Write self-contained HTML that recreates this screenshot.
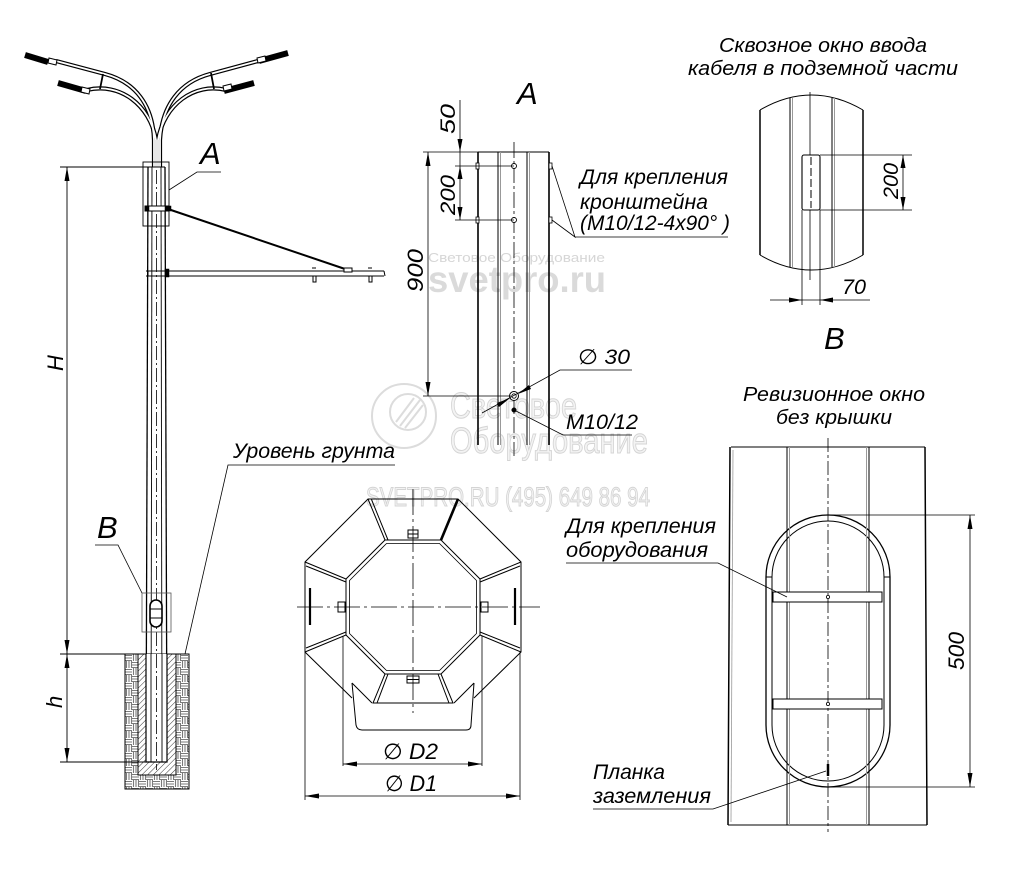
<!DOCTYPE html>
<html><head><meta charset="utf-8"><style>
html,body{margin:0;padding:0;background:#fff}
svg{display:block}
text{font-family:"Liberation Sans","DejaVu Sans",sans-serif;font-style:italic;fill:#000}
.wm{font-style:normal;fill:#f3f3f3;stroke:#d4d4d4;stroke-width:1}
</style></head><body>
<svg width="1014" height="882" viewBox="0 0 1014 882" xmlns="http://www.w3.org/2000/svg">
<defs>
<pattern id="brick" width="14" height="14" patternUnits="userSpaceOnUse" x="125" y="654">
 <rect width="14" height="14" fill="#fff"/>
 <g stroke="#7a7a7a" stroke-width="1.1">
  <path d="M0,1.5H7M0,4H7M0,6.5H7"/>
  <path d="M8.5,0V7M11,0V7M13.5,0V7"/>
  <path d="M1.5,7V14M4,7V14M6.5,7V14"/>
  <path d="M7,8.5H14M7,11H14M7,13.5H14"/>
 </g>
</pattern>
<pattern id="hatch" width="4" height="4" patternUnits="userSpaceOnUse" patternTransform="rotate(45)">
 <rect width="4" height="4" fill="#fff"/>
 <line x1="0" y1="0" x2="0" y2="4" stroke="#000" stroke-width="0.8"/>
</pattern>
</defs>
<rect width="1014" height="882" fill="#fff"/>

<!-- ============ WATERMARKS ============ -->
<g>
 <text x="428" y="262" font-size="13" style="font-style:normal;fill:#d6d6d6" textLength="177" lengthAdjust="spacingAndGlyphs">Световое Оборудование</text>
 <text x="428" y="292" font-size="37" font-weight="bold" style="font-style:normal;fill:#dadada" textLength="178" lengthAdjust="spacingAndGlyphs">svetpro.ru</text>
 <circle cx="404" cy="416" r="32" fill="none" stroke="#dcdcdc" stroke-width="2"/>
 <circle cx="408" cy="412" r="18" fill="none" stroke="#dcdcdc" stroke-width="2"/>
 <path d="M396,422 L414,398 M400,426 L420,400 M405,428 L423,405" stroke="#dcdcdc" stroke-width="2"/>
 <text class="wm" x="450" y="418" font-size="36" textLength="127" lengthAdjust="spacingAndGlyphs">Световое</text>
 <text class="wm" x="450" y="453" font-size="36" textLength="198" lengthAdjust="spacingAndGlyphs">Оборудование</text>
 <text class="wm" x="366" y="506" font-size="27" textLength="284" lengthAdjust="spacingAndGlyphs">SVETPRO.RU   (495) 649 86 94</text>
</g>

<!-- ============ LEFT POLE ============ -->
<g fill="none" stroke="#000">
 <!-- arms (tubes) -->
 <g stroke-width="4.2">
  <path d="M56,61 L105,74 C135,82 153,105 154,140 L154,167"/>
  <path d="M87,90 C120,82 150,105 156,140 L156,167"/>
  <path d="M258,61 L210,74 C180,82 162,105 160,140 L160,167"/>
  <path d="M226,90 C194,82 164,105 158,140 L158,167"/>
 </g>
 <g stroke="#fff" stroke-width="1.8">
  <path d="M56,61 L105,74 C135,82 153,105 154,140 L154,167"/>
  <path d="M87,90 C120,82 150,105 156,140 L156,167"/>
  <path d="M258,61 L210,74 C180,82 162,105 160,140 L160,167"/>
  <path d="M226,90 C194,82 164,105 158,140 L158,167"/>
 </g>
 <!-- braces -->
 <path d="M103,74 L100,89 M211,73 L214,89" stroke-width="1.8"/>
 <!-- lamps -->
 <g stroke-width="6" stroke-linecap="butt">
  <path d="M25,55 L48,62"/>
  <path d="M58,83 L86,91"/>
  <path d="M259,61 L288,53"/>
  <path d="M224,91 L254,83"/>
 </g>
 <g stroke-width="1">
  <path d="M49,58 L57,60 L56,65 L48,63 Z" fill="#fff"/>
  <path d="M82,87 L90,89 L89,94 L81,92 Z" fill="#fff"/>
  <path d="M257,58 L265,56 L266,61 L258,63 Z" fill="#fff"/>
  <path d="M223,86 L231,84 L232,89 L224,91 Z" fill="#fff"/>
 </g>
 <!-- pole shaft -->
 <path d="M148,167 L146,762" stroke-width="1.3"/>
 <path d="M165,167 L167,762" stroke-width="1.3"/>
 <path d="M152,167 L151,762" stroke-width="0.9"/>
 <path d="M161,167 L162,762" stroke-width="0.9"/>
 <path d="M156.5,170 L156.5,762" stroke-width="0.8" stroke-dasharray="14,3,2,3"/>
 <path d="M148,167 H165" stroke-width="1"/>
 <!-- box A -->
 <rect x="143" y="162" width="26" height="64" stroke-width="0.9"/>
 <path d="M169,190 L197,172 H221" stroke-width="0.8"/>
 <!-- strut and arm -->
 <path d="M168,209 L348,270" stroke-width="2"/>
 <path d="M146,271 H384 M146,276 H384 M384,271 L385,276" stroke-width="1"/>
 <path d="M148,271 V276" stroke-width="1"/>
 <rect x="145" y="206" width="24" height="5" fill="#fff" stroke-width="1"/>
 <rect x="145" y="206" width="4" height="5" fill="#000" stroke-width="0.5"/>
 <rect x="165" y="206" width="6" height="5" fill="#000" stroke-width="0.5"/>
 <rect x="165" y="269" width="4" height="8" fill="#000" stroke-width="0.5"/>
 <rect x="344" y="268" width="8" height="4" fill="#fff" stroke-width="1"/>
 <path d="M312,268 h4 M313,276 v6 h3 v-6 M368,268 h4 M369,276 v6 h3 v-6" stroke-width="1"/>
 <!-- box B -->
 <rect x="142" y="593" width="29" height="39" stroke="#555" stroke-width="0.8"/>
 <path d="M142,593 L118,545 H95" stroke-width="0.8"/>
 <rect x="150" y="600" width="12" height="27" rx="6" fill="#fff" stroke-width="1.6"/>
 <path d="M150,609 H162 M150,618 H162" stroke-width="1"/>
 <!-- foundation -->
 <rect x="125" y="654" width="64" height="135" fill="url(#brick)" stroke-width="1"/>
 <rect x="138" y="654" width="38" height="121" fill="url(#hatch)" stroke-width="1"/>
 <rect x="146" y="654" width="21" height="108" fill="#fff" stroke="none"/>
 <path d="M146,654 V762 H167 V654" stroke-width="1.2"/>
 <path d="M151,654 V762 M162,654 V762" stroke-width="0.9"/>
 <path d="M156.5,654 V770" stroke-width="0.8" stroke-dasharray="14,3,2,3"/>
 <!-- ground leader -->
 <path d="M185,654 L228,465 H395" stroke-width="0.8"/>
 <!-- dimensions H / h -->
 <path d="M67,167 V762 M60,167 H148 M60,654 H138 M60,762 H146" stroke-width="0.9"/>
</g>
<g fill="#000">
 <polygon points="67,167 64.5,181 69.5,181"/>
 <polygon points="67,654 64.5,640 69.5,640"/>
 <polygon points="67,654 64.5,668 69.5,668"/>
 <polygon points="67,762 64.5,748 69.5,748"/>
</g>
<text x="0" y="0" font-size="22" transform="translate(63,371) rotate(-90)">H</text>
<text x="0" y="0" font-size="22" transform="translate(62,708) rotate(-90)">h</text>
<text x="200" y="164" font-size="31">A</text>
<text x="97" y="538" font-size="31">B</text>
<text x="233" y="458" font-size="21" textLength="162" lengthAdjust="spacingAndGlyphs">Уровень грунта</text>

<!-- ============ VIEW A ============ -->
<text x="517" y="104" font-size="31">A</text>
<g fill="none" stroke="#000">
 <path d="M478,152 V445 M549,152 V445" stroke-width="1.6"/>
 <path d="M478,152 H549" stroke-width="1"/>
 <path d="M498,152 V445 M527,152 V445" stroke-width="1"/>
 <path d="M500.5,152 V445 M529.5,152 V445" stroke="#999" stroke-width="1"/>
 <path d="M514,142 V456" stroke-width="0.8" stroke-dasharray="16,3,3,3"/>
 <circle cx="514" cy="166" r="2.5" stroke-width="0.9" fill="#fff"/>
 <circle cx="514" cy="220" r="2.5" stroke-width="0.9" fill="#fff"/>
 <circle cx="514" cy="396" r="4.5" stroke-width="1" fill="#fff"/>
 <circle cx="514" cy="396" r="2.2" stroke-width="0.8"/>
 <circle cx="514" cy="410" r="2.3" fill="#000" stroke-width="0.5"/>
 <rect x="476" y="163" width="3" height="6" stroke-width="0.8" fill="#fff"/>
 <rect x="476" y="217" width="3" height="6" stroke-width="0.8" fill="#fff"/>
 <rect x="549" y="163" width="3" height="6" stroke-width="0.8" fill="#fff"/>
 <rect x="549" y="217" width="3" height="6" stroke-width="0.8" fill="#fff"/>
 <!-- dims -->
 <path d="M423,152 H478 M455,166 H514 M455,220 H514 M423,396 H511" stroke-width="0.8"/>
 <path d="M460,100 V220 M428,152 V396" stroke-width="0.8"/>
 <!-- leaders -->
 <path d="M552,166 L575,237 L552,220 M575,237 H728" stroke-width="0.8"/>
 <path d="M482,413 L560,370 H632" stroke-width="0.8"/>
 <path d="M514,410 L563,435 H632" stroke-width="0.8"/>
</g>
<g fill="#000">
 <polygon points="460,152 457.5,139 462.5,139"/>
 <polygon points="460,166 457.5,179 462.5,179"/>
 <polygon points="460,220 457.5,207 462.5,207"/>
 <polygon points="428,152 425.5,166 430.5,166"/>
 <polygon points="428,396 425.5,382 430.5,382"/>
 <polygon points="510,398 497,403 499,407"/>
 <polygon points="518,394 531,389 529,385"/>
</g>
<text x="0" y="0" font-size="21" transform="translate(455,134) rotate(-90)" textLength="30" lengthAdjust="spacingAndGlyphs">50</text>
<text x="0" y="0" font-size="21" transform="translate(455,215) rotate(-90)" textLength="40" lengthAdjust="spacingAndGlyphs">200</text>
<text x="0" y="0" font-size="22" transform="translate(423,292) rotate(-90)" textLength="43" lengthAdjust="spacingAndGlyphs">900</text>
<text x="580" y="184" font-size="21" textLength="148" lengthAdjust="spacingAndGlyphs">Для крепления</text>
<text x="580" y="209" font-size="21" textLength="128" lengthAdjust="spacingAndGlyphs">кронштейна</text>
<text x="580" y="230" font-size="21" textLength="150" lengthAdjust="spacingAndGlyphs">(М10/12-4х90° )</text>
<text x="578" y="364" font-size="21" textLength="52" lengthAdjust="spacingAndGlyphs">∅ 30</text>
<text x="566" y="429" font-size="21" textLength="72" lengthAdjust="spacingAndGlyphs">M10/12</text>

<!-- ============ VIEW B (cable window) ============ -->
<text x="719" y="52" font-size="20" textLength="208" lengthAdjust="spacingAndGlyphs">Сквозное окно ввода</text>
<text x="688" y="75" font-size="20" textLength="270" lengthAdjust="spacingAndGlyphs">кабеля в подземной части</text>
<g fill="none" stroke="#000">
 <path d="M760,110 Q811.5,80 863,110 M760,255 Q811.5,285 863,255" stroke-width="1"/>
 <path d="M760,110 V255 M863,110 V255" stroke-width="1.5"/>
 <path d="M790,98 V267 M832,98 V267" stroke-width="1"/>
 <path d="M792.5,98 V267 M834.5,98 V267" stroke="#999" stroke-width="1"/>
 <path d="M810,92 V280" stroke-width="0.8"/>
 <rect x="802" y="155" width="18" height="55" rx="2" fill="#fff" stroke-width="1.1"/>
 <path d="M811,157 V208" stroke-width="1" stroke-dasharray="8,3"/>
 <path d="M820,155 H912 M820,210 H912 M903,155 V210" stroke-width="0.8"/>
 <path d="M802,210 V305 M820,210 V305 M770,300 H870" stroke-width="0.8"/>
</g>
<g fill="#000">
 <polygon points="903,155 900.5,168 905.5,168"/>
 <polygon points="903,210 900.5,197 905.5,197"/>
 <polygon points="802,300 789,297.5 789,302.5"/>
 <polygon points="820,300 833,297.5 833,302.5"/>
</g>
<text x="0" y="0" font-size="21" transform="translate(898,199) rotate(-90)" textLength="36" lengthAdjust="spacingAndGlyphs">200</text>
<text x="842" y="294" font-size="21" textLength="24" lengthAdjust="spacingAndGlyphs">70</text>
<text x="824" y="349" font-size="31">B</text>

<!-- ============ OCTAGON SECTION ============ -->
<g fill="none" stroke="#000" stroke-width="1">
 <!-- outer octagon (partial) -->
 <path d="M352,698 L305,652 V562 L368,499 H458 L521,562 V652 L474,698"/>
 <!-- inner octagon double -->
 <path d="M385,540 H441 L480,579 V635 L441,674 H385 L346,635 V579 Z"/>
 <path d="M386.5,543.5 H439.5 L476.5,580.5 V633.5 L439.5,670.5 H386.5 L349.5,633.5 V580.5 Z" stroke-width="0.8"/>
 <!-- facet connectors -->
 <path d="M368,499 L385,540 M371.5,499.5 L388,540"/>
 <path d="M458,499 L441,540" stroke-width="2.6"/>
 <path d="M521,562 L480,579 M520,566 L480,582"/>
 <path d="M521,652 L480,635 M520,648 L480,632"/>
 <path d="M305,652 L346,635 M306,648 L346,632"/>
 <path d="M305,562 L346,579 M306,566 L346,582"/>
 <!-- bottom trapezoid -->
 <path d="M385,674 L373,703 H453 L441,674 M388,674 L377,703 M438,674 L449,703"/>
 <!-- bracket -->
 <path d="M352,683 L372,703 M474,683 L454,703"/>
 <path d="M352,683 L356,725 Q357,730 362,730 H466 Q471,730 471,725 L474,683"/>
 <!-- bolts -->
 <rect x="408" y="530" width="10" height="8" fill="#fff"/>
 <path d="M408,534 H418"/>
 <rect x="407" y="676" width="12" height="7" fill="#fff"/>
 <path d="M407,679.5 H419"/>
 <rect x="338" y="602" width="7" height="10" fill="#fff"/>
 <rect x="481" y="602" width="7" height="10" fill="#fff"/>
 <path d="M310,588 V625 M515,588 V625" stroke-width="2.2"/>
 <!-- centerlines -->
 <path d="M297,607 H540 M413,489 V713" stroke-width="0.8" stroke-dasharray="26,4,3,4"/>
 <!-- dims -->
 <path d="M305,652 V800 M520,652 V800 M343,636 V766 M482,636 V766" stroke-width="0.8"/>
 <path d="M343,764 H482 M305,796 H520" stroke-width="0.8"/>
</g>
<g fill="#000">
 <polygon points="343,764 357,761.5 357,766.5"/>
 <polygon points="482,764 468,761.5 468,766.5"/>
 <polygon points="305,796 319,793.5 319,798.5"/>
 <polygon points="520,796 506,793.5 506,798.5"/>
</g>
<text x="383" y="759" font-size="22" textLength="55" lengthAdjust="spacingAndGlyphs">∅ D2</text>
<text x="385" y="791" font-size="22" textLength="52" lengthAdjust="spacingAndGlyphs">∅ D1</text>

<!-- ============ REVISION WINDOW ============ -->
<text x="743" y="401" font-size="20" textLength="182" lengthAdjust="spacingAndGlyphs">Ревизионное окно</text>
<text x="776" y="424" font-size="20" textLength="116" lengthAdjust="spacingAndGlyphs">без крышки</text>
<g fill="none" stroke="#000">
 <path d="M730,447 L728,825 M925,447 L927,825" stroke-width="1.5"/>
 <path d="M731,447 H925 M728,825 H927" stroke-width="1"/>
 <path d="M733,450 L731,822" stroke="#999" stroke-width="0.8"/>
 <path d="M787,447 V825 M869,447 V825" stroke-width="1"/>
 <path d="M789.5,447 V825 M866.5,447 V825" stroke="#999" stroke-width="1"/>
 <rect x="766" y="515" width="124" height="272" rx="62" stroke-width="1.3" fill="#fff"/>
 <rect x="772" y="521" width="112" height="260" rx="56" stroke-width="1"/>
 <path d="M772,577 H766 M884,577 H890" stroke-width="1"/>
 <path d="M787,521 V781 M869,521 V781" stroke-width="1"/>
 <path d="M789.5,521 V781 M866.5,521 V781" stroke="#999" stroke-width="1"/>
 <rect x="773" y="592" width="109" height="10" fill="#fff" stroke-width="1"/>
 <rect x="773" y="699" width="109" height="10" fill="#fff" stroke-width="1"/>
 <path d="M828,438 V832" stroke-width="0.8" stroke-dasharray="14,3,3,3"/>
 <circle cx="828" cy="597" r="1.6" fill="#fff" stroke-width="0.8"/>
 <circle cx="828" cy="704" r="1.6" fill="#fff" stroke-width="0.8"/>
 <path d="M828,764 V776" stroke-width="2.5"/>
 <path d="M828,515 H975 M828,787 H975 M970,515 V787" stroke-width="0.8"/>
 <path d="M566,563 H718 L787,597" stroke-width="0.8"/>
 <path d="M593,809 H713 L826,771" stroke-width="0.8"/>
</g>
<g fill="#000">
 <polygon points="970,515 967.5,529 972.5,529"/>
 <polygon points="970,787 967.5,773 972.5,773"/>
</g>
<text x="0" y="0" font-size="22" transform="translate(964,670) rotate(-90)" textLength="38" lengthAdjust="spacingAndGlyphs">500</text>
<text x="566" y="533" font-size="21" textLength="150" lengthAdjust="spacingAndGlyphs">Для крепления</text>
<text x="566" y="557" font-size="21" textLength="142" lengthAdjust="spacingAndGlyphs">оборудования</text>
<text x="593" y="779" font-size="21" textLength="72" lengthAdjust="spacingAndGlyphs">Планка</text>
<text x="593" y="803" font-size="21" textLength="118" lengthAdjust="spacingAndGlyphs">заземления</text>
</svg>
</body></html>
